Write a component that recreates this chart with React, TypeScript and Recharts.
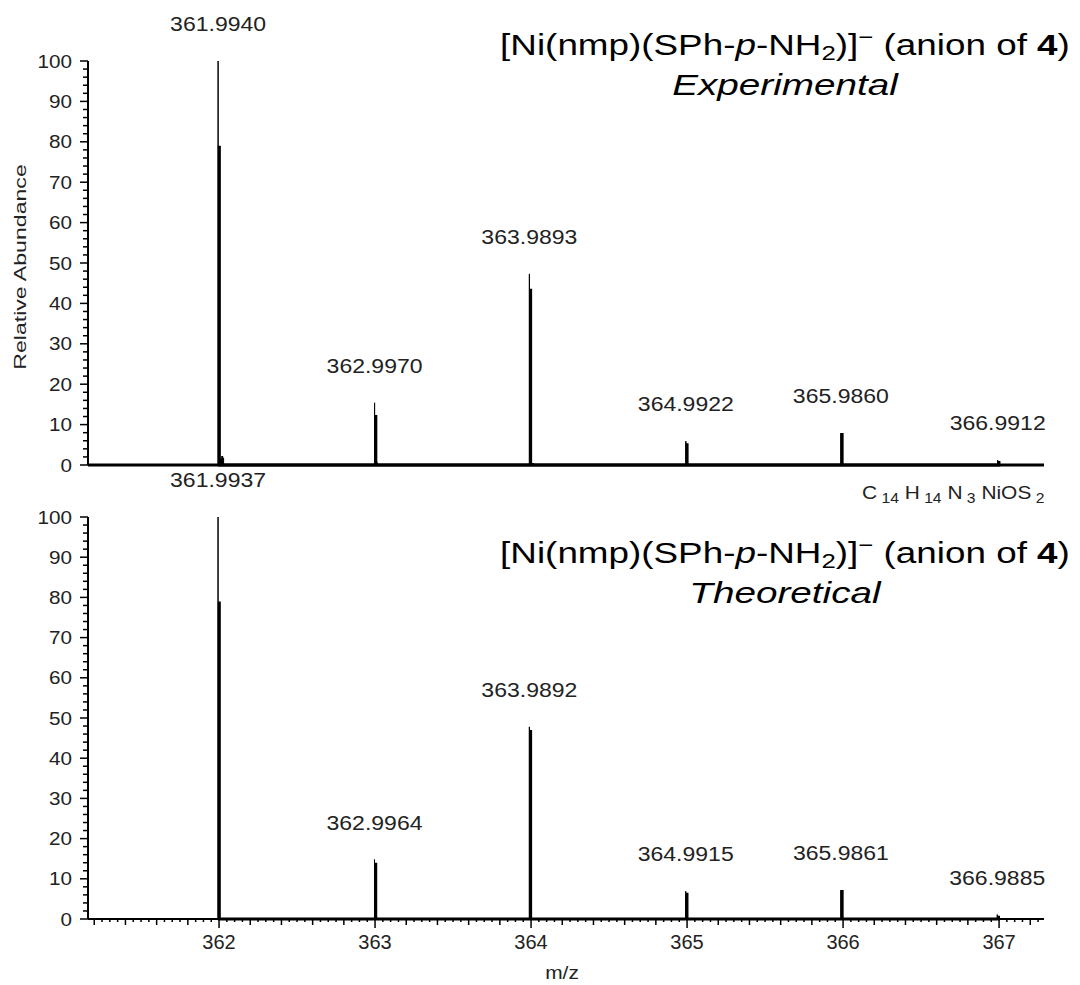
import { ComposedChart, Line, Scatter, XAxis, YAxis } from "recharts";

const FONT = '"Liberation Sans", Arial, sans-serif';

// experimental isotope pattern
const expMz = [361.994, 362.997, 363.9893, 364.9922, 365.986, 366.9912];
const expTop = [100, 15.4, 47.3, 5.9, 7.9, 1.2];
const expBody = [79, 12.4, 43.6, 5.4, 7.9, 1.0];
const expLabels = ["361.9940", "362.9970", "363.9893", "364.9922", "365.9860", "366.9912"];
const expNoiseMz = [362.012, 362.02, 362.026, 363.012, 364.012];
const expNoise = [1.6, 2.2, 1.8, 0.6, 0.5];

// theoretical isotope pattern
const theoMz = [361.9937, 362.9964, 363.9892, 364.9915, 365.9861, 366.9885];
const theoTop = [100, 14.8, 47.8, 6.9, 7.2, 1.1];
const theoBody = [79, 14.0, 47.0, 6.5, 7.2, 0.8];
const theoLabels = ["361.9937", "362.9964", "363.9892", "364.9915", "365.9861", "366.9885"];

const mzDomain = [361.16, 367.288];
const yTicks = Array.from({ length: 51 }, (_, i) => i * 2);
const mzTicks = Array.from({ length: 122 }, (_, i) => Math.round((361.2 + i * 0.05) * 100) / 100);

type Pt = { mz: number; ab: number; label?: string };

function sticks(mz: number[], h: number[]): Pt[] {
  const out: Pt[] = [];
  mz.forEach((m, i) => {
    out.push({ mz: m, ab: 0 }, { mz: m, ab: h[i] }, { mz: m, ab: 0 });
  });
  return out;
}

function peaks(mz: number[], h: number[], labels: string[]): Pt[] {
  return mz.map((m, i) => ({ mz: m, ab: h[i], label: labels[i] }));
}

const YTick = ({ x, y, payload }: any) => {
  const major = payload.value % 10 === 0;
  const s = String(payload.value);
  return (
    <g>
      <line x1={x} x2={x - (major ? 8 : 5)} y1={y} y2={y} stroke="#000" strokeWidth={1.5} />
      {major && (
        <text
          x={x - 16}
          y={y}
          textAnchor="end"
          dominantBaseline="central"
          fontSize={19}
          fontFamily={FONT}
          fill="#222"
          textLength={s.length * 11.5}
          lengthAdjust="spacingAndGlyphs"
        >
          {s}
        </text>
      )}
    </g>
  );
};

const MzTick = ({ x, y, payload }: any) => {
  const v = payload.value;
  const major = Math.abs(v - Math.round(v)) < 1e-6;
  const mid = Math.abs(v * 5 - Math.round(v * 5)) < 1e-6;
  const len = major ? 9 : mid ? 6 : 3;
  return (
    <g>
      <line x1={x} x2={x} y1={y} y2={y + len} stroke="#000" strokeWidth={1.5} />
      {major && (
        <text x={x} y={y + 23} textAnchor="middle" dominantBaseline="central" fontSize={20} fontFamily={FONT} fill="#222">
          {Math.round(v)}
        </text>
      )}
    </g>
  );
};

const PeakLabel = (props: any) => {
  const { cx, cy, payload } = props;
  return (
    <text
      x={cx}
      y={cy - 37}
      textAnchor="middle"
      dominantBaseline="central"
      fontSize={20}
      fontFamily={FONT}
      fill="#222"
      textLength={96}
      lengthAdjust="spacingAndGlyphs"
    >
      {payload.label}
    </text>
  );
};

function Spectrum({
  mz,
  top,
  body,
  labels,
  noiseMz,
  noise,
  height,
  marginTop,
  marginBottom,
  showTicks,
}: any) {
  return (
    <ComposedChart
      width={1080}
      height={height}
      margin={{ top: marginTop, right: 36, bottom: marginBottom, left: 38 }}
      style={{ overflow: "visible" }}
    >
      <XAxis
        type="number"
        dataKey="mz"
        domain={mzDomain}
        height={30}
        ticks={showTicks ? mzTicks : []}
        interval={0}
        tick={showTicks ? <MzTick /> : false}
        tickLine={false}
        tickSize={0}
        tickMargin={0}
        axisLine={{ stroke: "#000", strokeWidth: showTicks ? 2 : 3 }}
      />
      <YAxis
        type="number"
        dataKey="ab"
        domain={[0, 100]}
        width={50}
        ticks={yTicks}
        interval={0}
        tick={<YTick />}
        tickLine={false}
        tickSize={0}
        tickMargin={0}
        axisLine={{ stroke: "#000", strokeWidth: 2 }}
      />
      {noiseMz && (
        <Line
          data={sticks(noiseMz, noise)}
          dataKey="ab"
          type="linear"
          stroke="#000"
          strokeWidth={2}
          dot={false}
          activeDot={false}
          isAnimationActive={false}
        />
      )}
      <Line
        data={sticks(mz, top)}
        dataKey="ab"
        type="linear"
        stroke="#000"
        strokeWidth={1}
        dot={false}
        activeDot={false}
        isAnimationActive={false}
      />
      <Line
        data={sticks(mz.map((m: number) => m + 0.008), body)}
        dataKey="ab"
        type="linear"
        stroke="#000"
        strokeWidth={3}
        dot={false}
        activeDot={false}
        isAnimationActive={false}
      />
      <Scatter data={peaks(mz, top, labels)} dataKey="ab" shape={<PeakLabel />} isAnimationActive={false} />
    </ComposedChart>
  );
}

const Title = ({ top, sub }: { top: number; sub: string }) => (
  <div
    style={{
      position: "absolute",
      left: 385,
      top,
      width: 800,
      textAlign: "center",
      fontFamily: FONT,
      fontSize: 29,
      lineHeight: "40px",
      color: "#000",
      transform: "scaleX(1.27)",
      transformOrigin: "center",
    }}
  >
    <div>
      [Ni(nmp)(SPh-<i>p</i>-NH<sub style={{ fontSize: "0.7em", verticalAlign: "-0.25em", lineHeight: 0 }}>2</sub>)]
      <sup style={{ fontSize: "0.7em", verticalAlign: "0.55em", lineHeight: 0 }}>−</sup> (anion of <b>4</b>)
    </div>
    <div style={{ fontStyle: "italic", transform: "scaleX(1.05)" }}>{sub}</div>
  </div>
);

const subStyle = { fontSize: "0.75em", verticalAlign: "-0.3em", lineHeight: 0 };

export default function App() {
  return (
    <div style={{ position: "absolute", left: 0, top: 0, width: 1080, height: 985, background: "#fff", fontFamily: FONT }}>
      <div style={{ position: "absolute", left: 0, top: 0 }}>
        <Spectrum
          mz={expMz}
          top={expTop}
          body={expBody}
          labels={expLabels}
          noiseMz={expNoiseMz}
          noise={expNoise}
          height={500}
          marginTop={61}
          marginBottom={5}
          showTicks={false}
        />
      </div>
      <div style={{ position: "absolute", left: 0, top: 460 }}>
        <Spectrum
          mz={theoMz}
          top={theoTop}
          body={theoBody}
          labels={theoLabels}
          height={525}
          marginTop={57}
          marginBottom={36}
          showTicks={true}
        />
      </div>
      <Title top={25} sub="Experimental" />
      <Title top={533} sub="Theoretical" />
      <div
        style={{
          position: "absolute",
          left: 20,
          top: 267,
          transform: "translate(-50%, -50%) rotate(-90deg) scaleX(1.4)",
          fontSize: 16.5,
          color: "#222",
          whiteSpace: "nowrap",
        }}
      >
        Relative Abundance
      </div>
      <div style={{ position: "absolute", left: 862, top: 481, width: 182, overflow: "hidden" }}>
        <div
          style={{
            whiteSpace: "nowrap",
            fontSize: 19,
            lineHeight: "24px",
            color: "#222",
            transform: "scaleX(1.1)",
            transformOrigin: "left center",
          }}
        >
          C<sub style={subStyle}> 14</sub> H<sub style={subStyle}> 14</sub> N<sub style={subStyle}> 3</sub> NiOS
          <sub style={subStyle}> 2</sub>
        </div>
      </div>
      <div
        style={{
          position: "absolute",
          left: 562,
          top: 973,
          transform: "translate(-50%, -50%) scaleX(1.1)",
          fontSize: 19,
          color: "#222",
        }}
      >
        m/z
      </div>
    </div>
  );
}
